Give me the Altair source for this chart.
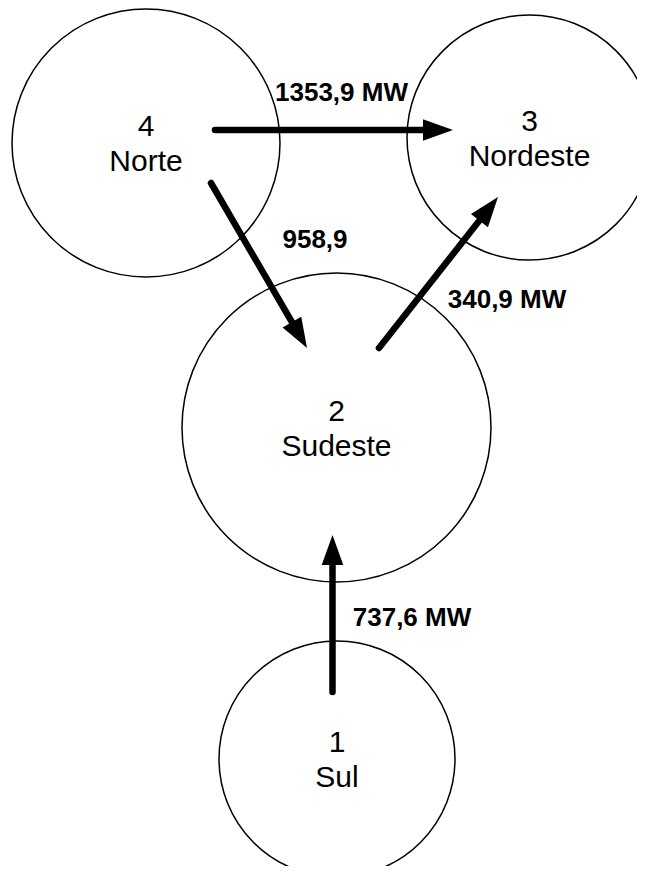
import math
import altair as alt
import pandas as pd

# Nodes (subsystems) – centre position and radius in page pixels
node_ids = ["4", "3", "2", "1"]
node_names = ["Norte", "Nordeste", "Sudeste", "Sul"]
node_x = [146, 529.5, 336.5, 337]
node_y = [143, 137.5, 427.5, 759]
node_r = [134, 122.5, 154.5, 118]

# Power flows between subsystems
flow_labels = ["1353,9 MW", "958,9", "340,9 MW", "737,6 MW"]
flow_x0 = [215, 211, 379, 332.5]
flow_y0 = [130, 183, 348, 692]
flow_x1 = [453, 307, 498, 332.5]
flow_y1 = [130, 348, 197, 535]
label_x = [341.5, 315, 507, 412]
label_y = [92, 239, 299, 617]

W, H = 629, 858
xs = alt.Scale(domain=[8, 8 + W], nice=False, zero=False)
ys = alt.Scale(domain=[8, 8 + H], nice=False, zero=False, reverse=True)

nodes = pd.DataFrame({
    "id": node_ids, "name": node_names, "x": node_x, "y": node_y, "r": node_r,
})
nodes["size"] = (2 * nodes["r"]) ** 2
REG = 30
nodes["y_id"] = nodes["y"] - 17.5
nodes["y_name"] = nodes["y"] + 17.5

HEAD = 30.0
rows = []
for lab, x0, y0, x1, y1, lx, ly in zip(flow_labels, flow_x0, flow_y0, flow_x1, flow_y1, label_x, label_y):
    dx, dy = x1 - x0, y1 - y0
    L = math.hypot(dx, dy)
    ux, uy = dx / L, dy / L
    ang = math.degrees(math.atan2(dx, -dy)) % 360
    rows.append({
        "label": lab, "x0": x0, "y0": y0,
        "xe": x1 - ux * (HEAD - 6), "ye": y1 - uy * (HEAD - 6),
        "xt": x1, "yt": y1, "angle": ang, "lx": lx, "ly": ly,
    })
flows = pd.DataFrame(rows)

X = lambda f: alt.X(f, type="quantitative", scale=xs, axis=None)
Y = lambda f: alt.Y(f, type="quantitative", scale=ys, axis=None)

circles = alt.Chart(nodes).mark_point(
    shape="circle", filled=False, stroke="black", strokeWidth=1.5, opacity=1
).encode(x=X("x"), y=Y("y"), size=alt.Size("size:Q", scale=None, legend=None))

id_text = alt.Chart(nodes).mark_text(
    font="Liberation Sans", fontSize=REG, color="black", align="center",
    baseline="alphabetic", dy=REG * 0.36
).encode(x=X("x"), y=Y("y_id"), text="id:N")

name_text = alt.Chart(nodes).mark_text(
    font="Liberation Sans", fontSize=REG, color="black", align="center",
    baseline="alphabetic", dy=REG * 0.36
).encode(x=X("x"), y=Y("y_name"), text="name:N")

shafts = alt.Chart(flows).mark_rule(
    color="black", strokeWidth=6.5, strokeCap="round"
).encode(x=X("x0"), y=Y("y0"), x2="xe:Q", y2="ye:Q")

heads = alt.Chart(flows).mark_point(
    shape="M0,0 L-0.72,2 L0.72,2 Z", filled=True, color="black", opacity=1,
    size=HEAD * HEAD, strokeWidth=0
).encode(x=X("xt"), y=Y("yt"), angle=alt.Angle("angle:Q", scale=None))

BOLD = 26
flow_text = alt.Chart(flows).mark_text(
    font="Liberation Sans", fontSize=BOLD, fontWeight="bold", color="black",
    align="center", baseline="alphabetic", dy=BOLD * 0.36
).encode(x=X("lx"), y=Y("ly"), text="label:N")

chart = alt.layer(circles, shafts, heads, id_text, name_text, flow_text).properties(
    width=W, height=H, padding=0, autosize="none"
).configure_view(stroke=None)

chart.save("out.html", embed_options={"renderer": "svg", "actions": False})
